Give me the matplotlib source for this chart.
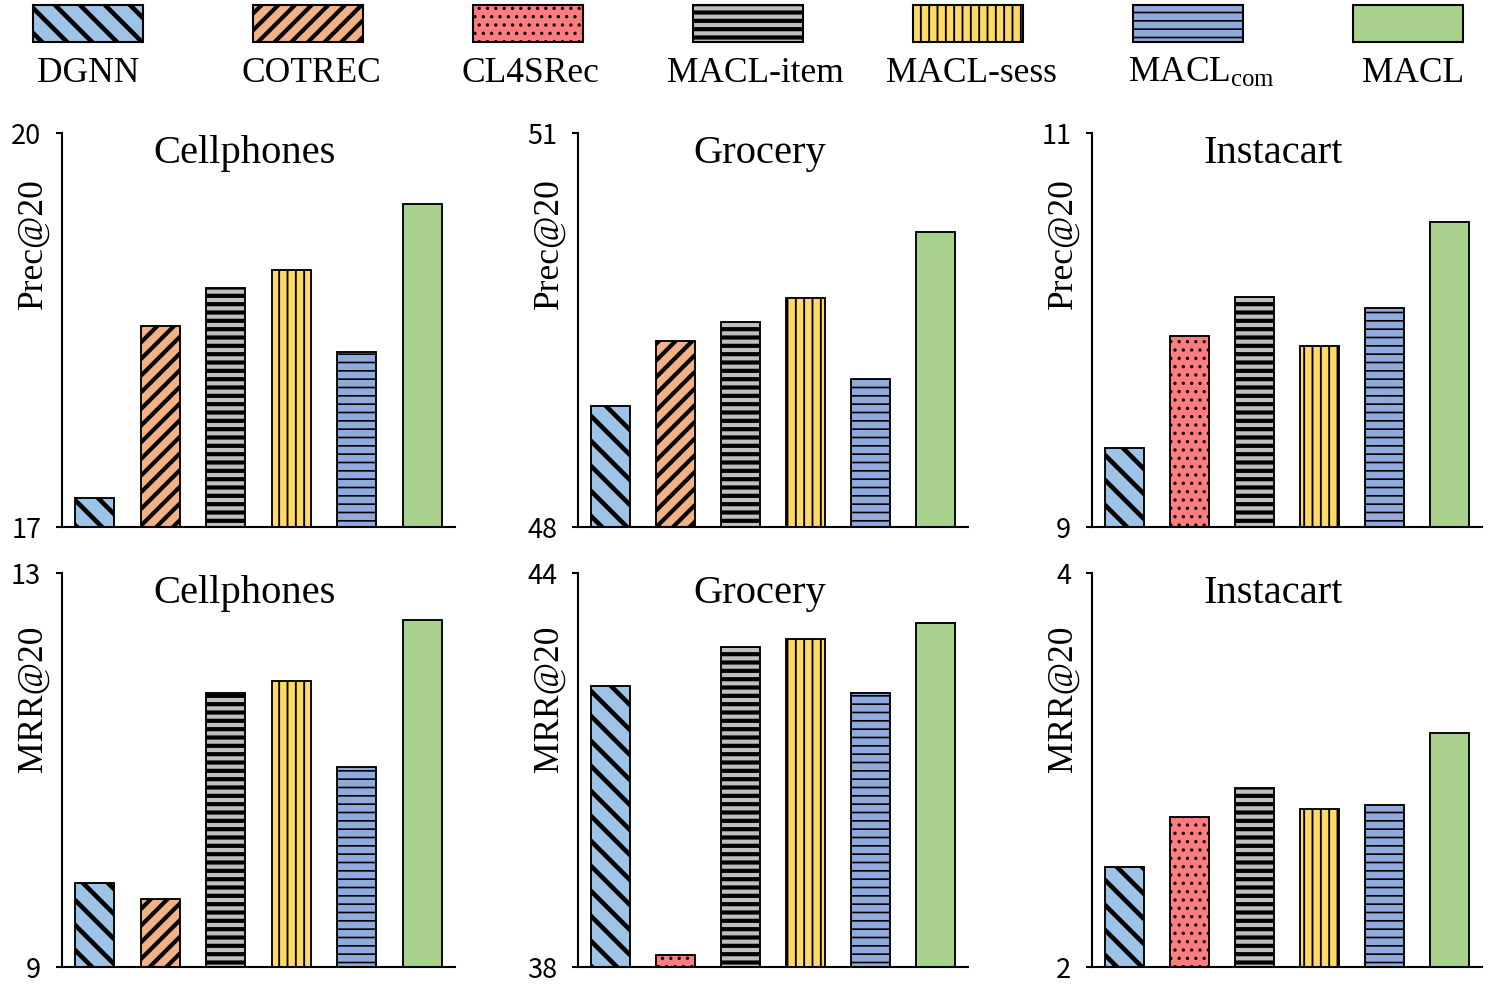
import numpy as np
import matplotlib
matplotlib.use('Agg')
import matplotlib.pyplot as plt
from matplotlib.patches import Rectangle

plt.rcParams['font.family'] = ['Liberation Serif', 'DejaVu Serif']
plt.rcParams['mathtext.fontset'] = 'custom'
plt.rcParams['mathtext.rm'] = 'Liberation Serif'
plt.rcParams['mathtext.it'] = 'Liberation Serif:italic'

# === Data ===
methods = ['DGNN', 'COTREC', 'CL4SRec', 'MACL-item', 'MACL-sess', 'MACL-com', 'MACL']
legend_labels = ['DGNN', 'COTREC', 'CL4SRec', 'MACL-item', 'MACL-sess',
                 r'MACL$_{\mathrm{com}}$', 'MACL']

cell_methods = ['DGNN', 'COTREC', 'MACL-item', 'MACL-sess', 'MACL-com', 'MACL']
cell_prec = [17.22, 18.53, 18.82, 18.96, 18.33, 19.46]
cell_mrr = [9.85, 9.69, 11.78, 11.90, 11.03, 12.52]

groc_prec_methods = ['DGNN', 'COTREC', 'MACL-item', 'MACL-sess', 'MACL-com', 'MACL']
groc_prec = [48.92, 49.42, 49.56, 49.74, 49.13, 50.25]
groc_mrr_methods = ['DGNN', 'CL4SRec', 'MACL-item', 'MACL-sess', 'MACL-com', 'MACL']
groc_mrr = [42.28, 38.18, 42.87, 42.99, 42.17, 43.24]

inst_methods = ['DGNN', 'CL4SRec', 'MACL-item', 'MACL-sess', 'MACL-com', 'MACL']
inst_prec = [9.40, 9.97, 10.17, 9.92, 10.11, 10.55]
inst_mrr = [2.51, 2.76, 2.91, 2.80, 2.82, 3.19]

# === Styles ===
colors = {'DGNN': '#9DC3E6', 'COTREC': '#F4B183', 'CL4SRec': '#FF7C80',
          'MACL-item': '#BFBFBF', 'MACL-sess': '#FFD966', 'MACL-com': '#8FAADC',
          'MACL': '#A9D18E'}
hatches = {'DGNN': '\\\\', 'COTREC': '///', 'CL4SRec': '...',
           'MACL-item': '---', 'MACL-sess': '|||', 'MACL-com': '---', 'MACL': None}
hatch_lw = {'DGNN': 2.2, 'COTREC': 2.0, 'CL4SRec': 0.8, 'MACL-item': 2.0,
            'MACL-sess': 0.9, 'MACL-com': 0.8, 'MACL': 1.0}

panels = [
    ('Cellphones', 'Prec@20', cell_methods, cell_prec, (17, 20)),
    ('Grocery', 'Prec@20', groc_prec_methods, groc_prec, (48, 51)),
    ('Instacart', 'Prec@20', inst_methods, inst_prec, (9, 11)),
    ('Cellphones', 'MRR@20', cell_methods, cell_mrr, (9, 13)),
    ('Grocery', 'MRR@20', groc_mrr_methods, groc_mrr, (38, 44)),
    ('Instacart', 'MRR@20', inst_methods, inst_mrr, (2, 4)),
]

W, H = 1495, 988
fig = plt.figure(figsize=(W / 150, H / 150), dpi=150)

lefts = [62, 578, 1092]
widths = [393, 390, 390]
bottoms = [527, 967]
ax_h = 394


def set_hlw(patch, lw):
    if hasattr(patch, 'set_hatch_linewidth'):
        patch.set_hatch_linewidth(lw)


for k, (title, ylabel, names, vals, ylim) in enumerate(panels):
    r, c = divmod(k, 3)
    ax = fig.add_axes([lefts[c] / W, 1 - bottoms[r] / H, widths[c] / W, ax_h / H])
    x = np.arange(len(vals))
    for xi, name, v in zip(x, names, vals):
        bars = ax.bar(xi, v - ylim[0], bottom=ylim[0], width=0.6, color=colors[name],
                      edgecolor='black', linewidth=0.9, hatch=hatches[name])
        for b in bars:
            set_hlw(b, hatch_lw[name])
    ax.set_xlim(-0.5, 5.5)
    ax.set_ylim(*ylim)
    ax.set_xticks([])
    ax.set_yticks(list(ylim))
    ax.set_yticklabels([str(t) for t in ylim], family=['Noto Sans CJK SC', 'DejaVu Sans'],
                       fontsize=13)
    ax.tick_params(axis='y', direction='out', length=3, width=1, pad=7)
    for s in ['top', 'right']:
        ax.spines[s].set_visible(False)
    for s in ['left', 'bottom']:
        ax.spines[s].set_linewidth(1.0)
    ax.text(0.465, 0.925, title, transform=ax.transAxes, ha='center', va='baseline',
            fontsize=19.5)
    ax.text(-0.073, 0.72 if r == 0 else 0.68, ylabel, transform=ax.transAxes,
            rotation=90, ha='center', va='center', fontsize=17)

# === Legend (boxes with labels underneath) ===
label_shift = [0, 3, 2, 7, 3, 13, 5]
for i, (name, lab) in enumerate(zip(methods, legend_labels)):
    cx = 88 + 220 * i
    rect = Rectangle(((cx - 55) / W, 1 - 42 / H), 110 / W, 37 / H,
                     transform=fig.transFigure, facecolor=colors[name],
                     edgecolor='black', linewidth=1.0, hatch=hatches[name])
    set_hlw(rect, hatch_lw[name])
    fig.patches.append(rect)
    fig.text((cx + label_shift[i]) / W, 1 - 82 / H, lab, ha='center', va='baseline',
             fontsize=17)

fig.savefig('out.png', dpi=150)
